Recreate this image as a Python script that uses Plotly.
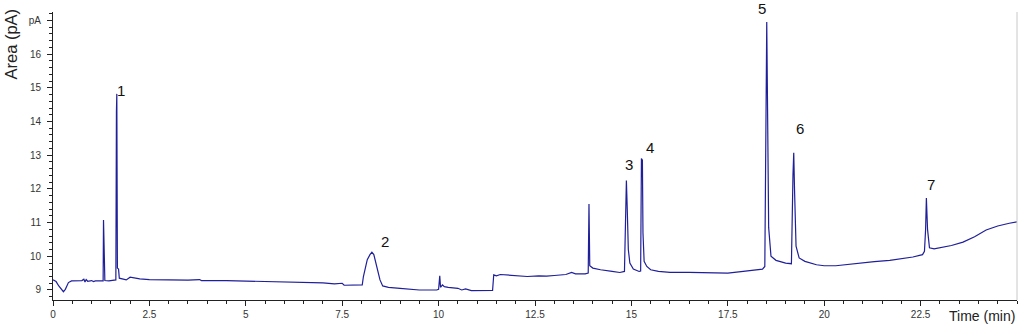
import plotly.graph_objects as go

# Retention time (min)
time_min = [
    0.00, 0.08, 0.15, 0.22, 0.27, 0.32, 0.40, 0.48, 0.60, 0.75, 0.80, 0.83, 0.86, 0.90,
    1.00, 1.05, 1.10, 1.25, 1.30, 1.31, 1.33, 1.345, 1.45, 1.60, 1.63, 1.645, 1.655,
    1.67, 1.70, 1.72, 1.80, 1.90, 2.00, 2.10, 2.25, 2.50, 3.00, 3.50, 3.80, 3.85,
    4.50, 5.00, 5.50, 6.00, 6.50, 7.00, 7.30, 7.50, 7.55, 7.80, 8.02, 8.05, 8.10,
    8.15, 8.22, 8.27, 8.32, 8.40, 8.48, 8.55, 8.70, 9.00, 9.50, 9.95, 10.00, 10.03,
    10.05, 10.10, 10.15, 10.25, 10.50, 10.60, 10.70, 10.85, 11.20, 11.40, 11.43,
    11.50, 11.60, 12.00, 12.30, 12.60, 12.80, 13.00, 13.30, 13.45, 13.55, 13.80,
    13.88, 13.90, 13.92, 14.00, 14.20, 14.50, 14.70, 14.82, 14.85, 14.87, 14.89,
    14.92, 14.96, 15.05, 15.20, 15.24, 15.26, 15.285, 15.30, 15.33, 15.40, 15.50,
    15.70, 16.00, 16.50, 17.00, 17.50, 17.90, 18.20, 18.40, 18.46, 18.49, 18.51,
    18.53, 18.56, 18.62, 18.75, 19.00, 19.15, 19.19, 19.21, 19.23, 19.27, 19.35,
    19.50, 19.80, 20.00, 20.30, 20.60, 21.00, 21.30, 21.70, 22.00, 22.30, 22.55,
    22.60, 22.63, 22.65, 22.68, 22.73, 22.85, 23.00, 23.30, 23.60, 23.90, 24.20,
    24.50, 24.80, 25.00,
]

# Detector signal (pA)
signal_pa = [
    9.30, 9.25, 9.12, 9.02, 8.95, 9.02, 9.22, 9.27, 9.27, 9.28, 9.32, 9.24, 9.31, 9.26,
    9.28, 9.25, 9.27, 9.26, 9.27, 11.08, 10.30, 9.28, 9.27, 9.28, 9.30, 14.30, 14.82,
    9.65, 9.62, 9.35, 9.32, 9.30, 9.38, 9.36, 9.33, 9.31, 9.29, 9.29, 9.31, 9.28,
    9.28, 9.27, 9.26, 9.25, 9.23, 9.21, 9.18, 9.20, 9.14, 9.15, 9.15, 9.40, 9.70,
    9.90, 10.05, 10.12, 10.05, 9.70, 9.30, 9.12, 9.08, 9.05, 9.00, 9.00, 9.02, 9.42,
    9.08, 9.15, 9.10, 9.08, 9.05, 9.00, 9.03, 8.98, 8.98, 8.99, 9.45,
    9.42, 9.46, 9.42, 9.40, 9.42, 9.41, 9.43, 9.46, 9.52, 9.48, 9.48,
    9.50, 11.55, 9.72, 9.65, 9.60, 9.55, 9.52, 9.55, 11.60, 12.25, 11.50,
    10.20, 9.80, 9.62, 9.55, 9.56, 12.90, 12.85, 10.70, 9.85, 9.70, 9.60,
    9.55, 9.52, 9.52, 9.51, 9.50, 9.55, 9.60, 9.62, 9.70, 15.10, 16.95,
    14.50, 10.85, 10.00, 9.88, 9.80, 9.78, 12.40, 13.07, 12.00, 10.30, 9.95,
    9.85, 9.75, 9.72, 9.72, 9.76, 9.80, 9.84, 9.88, 9.92, 9.98, 10.05,
    10.15, 10.80, 11.73, 10.80, 10.25, 10.22, 10.25, 10.32, 10.42, 10.58, 10.78,
    10.90, 10.98, 11.02,
]

peak_labels = ["1", "2", "3", "4", "5", "6", "7"]
peak_label_t = [1.76, 8.62, 14.95, 15.47, 18.38, 19.38, 22.77]
peak_label_v = [14.92, 10.45, 12.71, 13.24, 17.36, 13.78, 12.12]

x_tickvals = [0, 2.5, 5, 7.5, 10, 12.5, 15, 17.5, 20, 22.5]
x_ticktext = ["0", "2.5", "5", "7.5", "10", "12.5", "15", "17.5", "20", "22.5"]
y_tickvals = [9, 10, 11, 12, 13, 14, 15, 16, 17]
y_ticktext = ["9", "10", "11", "12", "13", "14", "15", "16", "pA"]

X_RANGE = [0, 25]
Y_RANGE = [8.703, 17.25]
FONT = "Arial, Liberation Sans, sans-serif"

fig = go.Figure()
fig.add_trace(go.Scatter(
    x=time_min, y=signal_pa, mode="lines",
    line=dict(color="#1f1f99", width=1.2),
    hoverinfo="x+y", showlegend=False,
))

# peak labels: y given in pA, converted to paper so labels above the range still show
for lab, t, v in zip(peak_labels, peak_label_t, peak_label_v):
    fig.add_annotation(x=t, y=(v - Y_RANGE[0]) / (Y_RANGE[1] - Y_RANGE[0]),
                       xref="x", yref="paper", text=lab, showarrow=False,
                       xanchor="center", yanchor="middle",
                       font=dict(family=FONT, size=15, color="#111"))

fig.add_annotation(x=-53 / 964, y=(300 - 7) / 288, xref="paper", yref="paper", text="Area (pA)",
                   textangle=-90, showarrow=False, xanchor="left", yanchor="top",
                   font=dict(family=FONT, size=16.5, color="#222"))
fig.add_annotation(x=1.0, y=-16 / 288, xref="paper", yref="paper", text="Time (min)",
                   showarrow=False, xanchor="right", yanchor="middle",
                   font=dict(family=FONT, size=14, color="#222"))

fig.add_shape(type="line", xref="paper", yref="paper", x0=1, x1=1, y0=0, y1=1,
              line=dict(color="#c8c8c8", width=1))

fig.update_layout(
    width=1018, height=331,
    margin=dict(l=53, r=1, t=12, b=31),
    paper_bgcolor="white", plot_bgcolor="white",
    font=dict(family=FONT, size=10, color="#333"),
    xaxis=dict(
        range=X_RANGE, tickvals=x_tickvals, ticktext=x_ticktext,
        showgrid=False, zeroline=False, showline=True, linecolor="#222", linewidth=1,
        ticks="outside", ticklen=5, tickcolor="#222",
        minor=dict(dtick=0.5, tick0=0, ticks="outside", ticklen=3, tickcolor="#222", showgrid=False),
        tickfont=dict(size=10, color="#333"),
    ),
    yaxis=dict(
        range=Y_RANGE, tickvals=y_tickvals, ticktext=y_ticktext,
        showgrid=False, zeroline=False, showline=True, linecolor="#222", linewidth=1,
        ticks="outside", ticklen=5, tickcolor="#222",
        minor=dict(dtick=0.2, tick0=9, ticks="outside", ticklen=3, tickcolor="#222", showgrid=False),
        tickfont=dict(size=10, color="#333"),
        ticklabelstandoff=4,
    ),
)

fig.write_html(
    "out.html",
    config={"displayModeBar": False},
    post_script="document.body.style.margin='0';document.body.style.overflow='hidden';",
)
